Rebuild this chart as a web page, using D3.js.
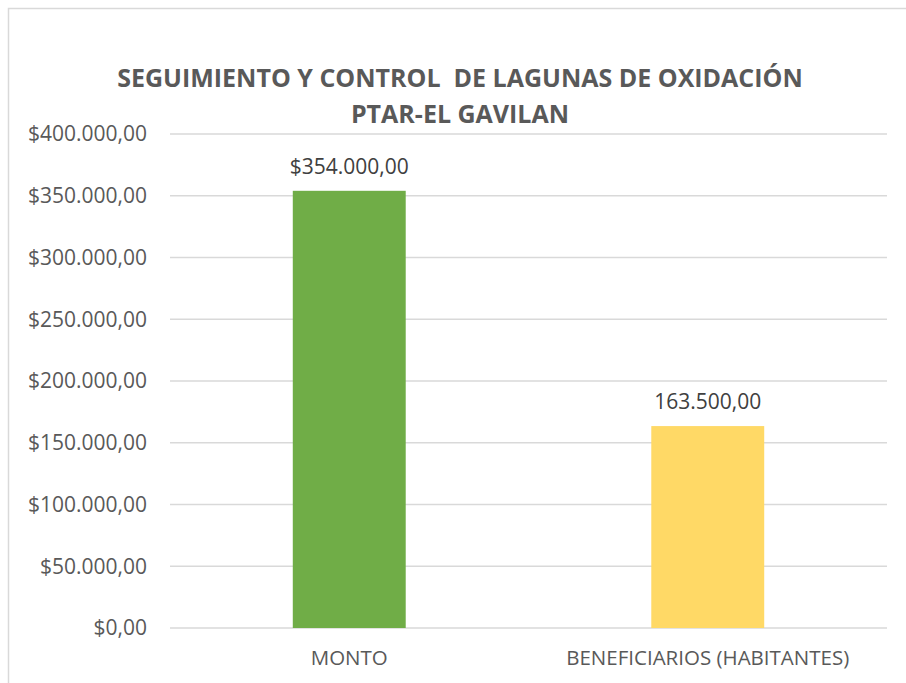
<!DOCTYPE html>
<html>
<head>
<meta charset="utf-8">
<script src="https://cdn.jsdelivr.net/npm/d3@7"></script>
<style>
    body { margin: 0; background: #fff; }
    svg { display: block; }
    text { font-family: 'Open Sans', sans-serif; }
</style>
</head>
<body>
<div id="chart"></div>
<script>
let categories = ['MONTO', 'BENEFICIARIOS (HABITANTES)'];
let values = [354000, 163500];
let barColors = ['#70ad47', '#ffd966'];
let yTicks = [0, 50000, 100000, 150000, 200000, 250000, 300000, 350000, 400000];
let titleLines = ['SEGUIMIENTO Y CONTROL\u00a0\u00a0DE LAGUNAS DE OXIDACIÓN', 'PTAR-EL GAVILAN'];

(function() {
    let width = 906, height = 683;
    let plot = { left: 170, right: 887, top: 134, bottom: 628 };

    let locale = d3.formatLocale({
        decimal: ',',
        thousands: '.',
        grouping: [3],
        currency: ['$', '']
    });
    let money = locale.format('$,.2f');
    let plain = locale.format(',.2f');

    let svg = d3.select('#chart')
        .append('svg')
        .attr('width', width)
        .attr('height', height);

    // chart frame (runs off the right and bottom of the picture)
    svg.append('rect')
        .attr('x', 8.5)
        .attr('y', 8.5)
        .attr('width', 920)
        .attr('height', 700)
        .attr('fill', '#fff')
        .attr('stroke', '#d9d9d9')
        .attr('stroke-width', 1.5);

    let x = d3.scaleBand()
        .domain(categories)
        .range([plot.left, plot.right])
        .paddingInner(0.685)
        .paddingOuter(0.3425);

    let y = d3.scaleLinear()
        .domain([0, 400000])
        .range([plot.bottom, plot.top]);

    // gridlines
    svg.append('g')
        .selectAll('line')
        .data(yTicks)
        .enter()
        .append('line')
        .attr('x1', plot.left)
        .attr('x2', plot.right)
        .attr('y1', d => y(d))
        .attr('y2', d => y(d))
        .attr('stroke', '#d9d9d9')
        .attr('stroke-width', 1.5);

    // y labels
    svg.append('g')
        .selectAll('text')
        .data(yTicks)
        .enter()
        .append('text')
        .attr('x', 147)
        .attr('y', d => y(d))
        .attr('dy', '0.35em')
        .attr('text-anchor', 'end')
        .attr('font-size', 21)
        .attr('fill', '#595959')
        .text(d => money(d));

    // bars
    svg.append('g')
        .selectAll('rect')
        .data(values)
        .enter()
        .append('rect')
        .attr('x', (d, i) => x(categories[i]))
        .attr('width', x.bandwidth())
        .attr('y', d => y(d))
        .attr('height', d => y(0) - y(d))
        .attr('fill', (d, i) => barColors[i]);

    // data labels, first one is money, second is a head count
    svg.append('g')
        .selectAll('text')
        .data(values)
        .enter()
        .append('text')
        .attr('x', (d, i) => x(categories[i]) + x.bandwidth() / 2)
        .attr('y', d => y(d) - 17)
        .attr('text-anchor', 'middle')
        .attr('font-size', 21)
        .attr('fill', '#404040')
        .text((d, i) => i === 0 ? money(d) : plain(d));

    // category labels
    svg.append('g')
        .selectAll('text')
        .data(categories)
        .enter()
        .append('text')
        .attr('x', d => x(d) + x.bandwidth() / 2)
        .attr('y', 665)
        .attr('text-anchor', 'middle')
        .attr('font-size', 20.5)
        .attr('fill', '#595959')
        .text(d => d);

    // title
    svg.append('g')
        .selectAll('text')
        .data(titleLines)
        .enter()
        .append('text')
        .attr('x', 460)
        .attr('y', (d, i) => 87 + i * 36)
        .attr('text-anchor', 'middle')
        .attr('font-size', 25)
        .attr('font-weight', 'bold')
        .attr('fill', '#595959')
        .text(d => d);
})();
</script>
</body>
</html>
